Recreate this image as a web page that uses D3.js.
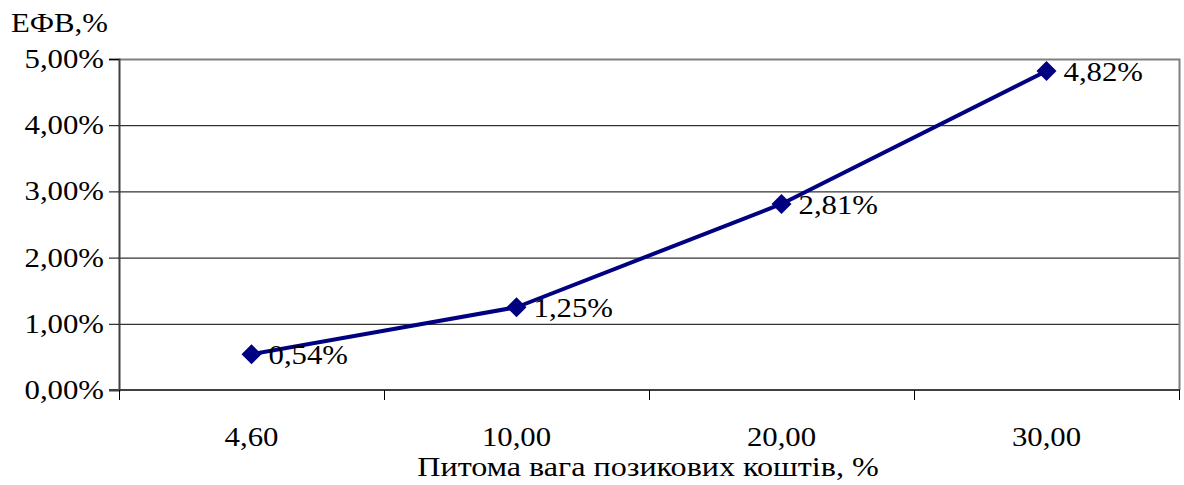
<!DOCTYPE html>
<html>
<head>
<meta charset="utf-8">
<script src="https://cdn.jsdelivr.net/npm/d3@7"></script>
<style>
  html, body { margin: 0; padding: 0; background: #fff; }
</style>
</head>
<body>
<svg id="chart" width="1184" height="485"></svg>
<script>
// Share of borrowed funds (category labels) and financial leverage effect, %
const categories = ["4,60", "10,00", "20,00", "30,00"];
const values = [0.54, 1.25, 2.81, 4.82];
const valueLabels = ["0,54%", "1,25%", "2,81%", "4,82%"];
const yTicks = [0, 1, 2, 3, 4, 5];
const yTickLabels = ["0,00%", "1,00%", "2,00%", "3,00%", "4,00%", "5,00%"];

const svg = d3.select("#chart");
const plotL = 119, plotR = 1179, plotT = 59, plotB = 390;
const fontSize = 27, stretch = 1.14;
const serif = "'Liberation Serif', 'Times New Roman', Tinos, 'DejaVu Serif', serif";

const x = d3.scaleBand().domain(categories).range([plotL, plotR]).padding(0);
const y = d3.scaleLinear().domain([0, 5]).range([plotB, plotT]);

// horizontally stretched text helper
function label(g, px, py, txt, anchor, sx) {
  return g.append("text")
    .attr("transform", `translate(${px},${py}) scale(${sx || stretch},1)`)
    .attr("font-family", serif)
    .attr("font-size", fontSize)
    .attr("fill", "#000")
    .attr("text-anchor", anchor || "start")
    .text(txt);
}

// gridlines
svg.append("g").selectAll("line")
  .data(yTicks.filter(d => d > 0 && d < 5))
  .join("line")
  .attr("x1", plotL).attr("x2", plotR)
  .attr("y1", d => y(d) + 0.5).attr("y2", d => y(d) + 0.5)
  .attr("stroke", "#000").attr("stroke-width", 1);

// plot frame (top and right)
svg.append("path")
  .attr("d", `M${plotL},${plotT + 0.5}H${plotR + 0.5}V${plotB}`)
  .attr("fill", "none").attr("stroke", "#808080").attr("stroke-width", 2);

// y axis
const yAxis = svg.append("g").attr("transform", `translate(${plotL},0)`)
  .call(d3.axisLeft(y).tickValues(yTicks).tickSize(10).tickFormat(""));
yAxis.select(".domain").attr("stroke", "#404040").attr("stroke-width", 2);
yAxis.selectAll(".tick line").attr("stroke", "#000");
const yl = svg.append("g");
yTicks.forEach((d, i) => label(yl, 104, y(d) + 9, yTickLabels[i], "end"));

// x axis with ticks at band boundaries
const xAxis = svg.append("g").attr("transform", `translate(0,${plotB})`);
xAxis.append("line").attr("x1", plotL - 10).attr("x2", plotR + 1)
  .attr("y1", 0).attr("y2", 0).attr("stroke", "#404040").attr("stroke-width", 2);
const bounds = categories.map(c => x(c)).concat([x(categories[categories.length - 1]) + x.bandwidth()]);
xAxis.selectAll("line.tk").data(bounds).join("line").attr("class", "tk")
  .attr("x1", d => d + 0.5).attr("x2", d => d + 0.5)
  .attr("y1", 0).attr("y2", 10).attr("stroke", "#000");
const xl = svg.append("g");
categories.forEach(c => label(xl, x(c) + x.bandwidth() / 2, 446, c, "middle"));

// axis titles
label(svg.append("g"), 648, 476, "Питома вага позикових коштів, %", "middle", 1.19);
label(svg.append("g"), 11, 32, "ЕФВ,%", "start");

// series line
const pts = categories.map((c, i) => [x(c) + x.bandwidth() / 2, y(values[i])]);
svg.append("path").datum(pts)
  .attr("d", d3.line())
  .attr("fill", "none").attr("stroke", "#000080").attr("stroke-width", 4)
  .attr("stroke-linejoin", "round");

// diamond markers
svg.append("g").selectAll("path").data(pts).join("path")
  .attr("transform", d => `translate(${d[0]},${d[1]})`)
  .attr("d", "M0,-10L10,0L0,10L-10,0Z")
  .attr("fill", "#000080");

// value labels
const vl = svg.append("g");
pts.forEach((p, i) => label(vl, p[0] + 17, p[1] + 10, valueLabels[i], "start"));
</script>
</body>
</html>
